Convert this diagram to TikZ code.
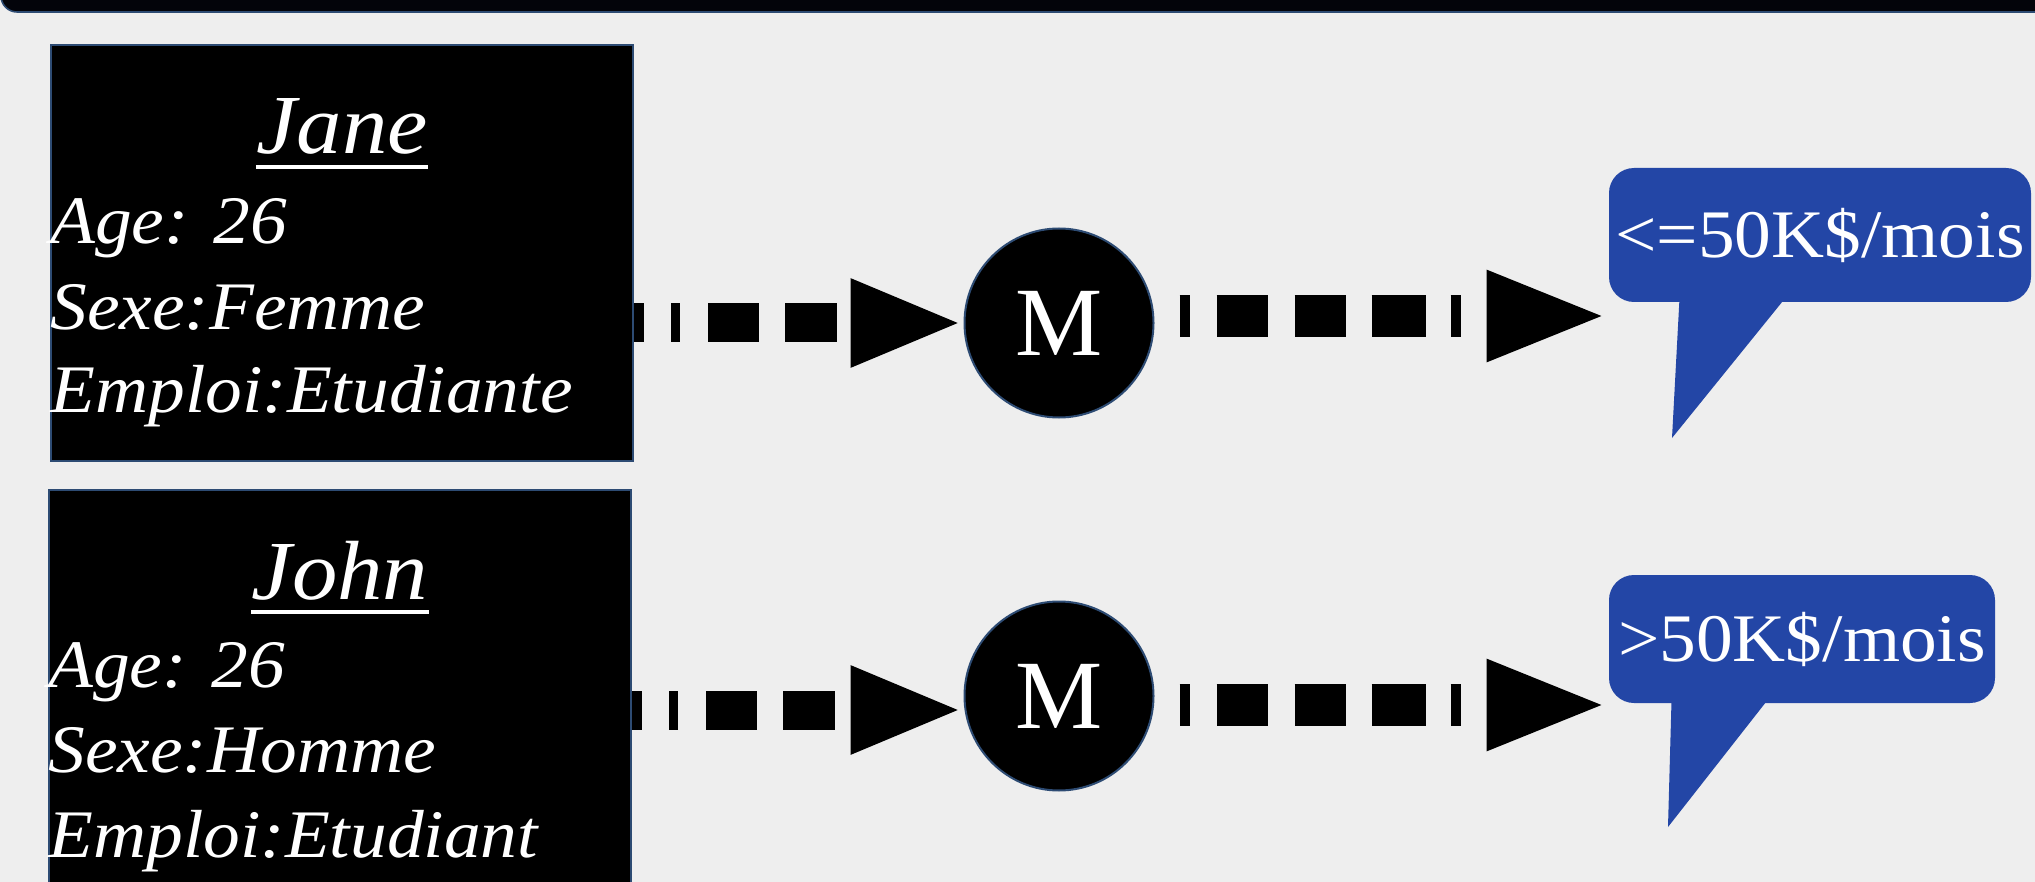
\documentclass[tikz,border=0pt]{standalone}
\usepackage{fontspec}
\setmainfont{Liberation Serif}
\newfontfamily\stretchserif{Liberation Serif}[FakeStretch=1.08]
\usetikzlibrary{arrows.meta}
\definecolor{bgcol}{RGB}{238,238,238}
\definecolor{callblue}{RGB}{35,70,166}
\definecolor{edgecol}{RGB}{45,75,115}
\definecolor{barcol}{RGB}{3,4,10}
\tikzset{
  personbox/.style={rectangle, fill=black, draw=edgecol, line width=1pt, inner sep=0pt,
    minimum width=291pt, minimum height=208pt},
  titletext/.style={inner sep=0pt, text=white, anchor=base,
    font=\stretchserif\itshape\fontsize{42pt}{48pt}\selectfont},
  attrtext/.style={inner sep=0pt, text=white, anchor=base west,
    font=\stretchserif\itshape\fontsize{34pt}{40pt}\selectfont},
  mnode/.style={circle, fill=black, draw=edgecol, line width=1pt, inner sep=0pt,
    minimum size=94.5pt, text=white, font=\fontsize{49pt}{55pt}\selectfont},
  callbox/.style={rectangle, rounded corners=12.5pt, fill=callblue, inner sep=0pt,
    text=white, font=\stretchserif\fontsize{34pt}{40pt}\selectfont},
  flowin/.style={black, line width=19.5pt, line cap=butt,
    dash pattern=on 5pt off 13.5pt on 4.5pt off 14pt on 25.5pt off 13pt on 26pt off 150pt,
    -{Triangle[length=56.5pt,width=40pt]}},
  flowout/.style={black, line width=21pt, line cap=butt,
    dash pattern=on 0pt off 12.5pt on 5pt off 13.5pt on 25.5pt off 13.5pt on 25.5pt off 13pt on 27pt off 12.5pt on 5pt off 150pt,
    -{Triangle[length=61pt,width=41pt]}},
  uline/.style={white, line width=1.6pt}
}
\begin{document}
\begin{tikzpicture}[x=0.5pt,y=-0.5pt]
\useasboundingbox (0,0) rectangle (2035,882);
\begin{scope}
\clip (0,0) rectangle (2035,882);
\fill[bgcol] (0,0) rectangle (2035,882);
% top bar
\fill[barcol, draw=edgecol, line width=0.8pt, rounded corners=8pt] (1,-60) rectangle (2100,12);

% person boxes
\node[personbox] (jane) at (342,253) {};
\node[personbox] (john) at (340,698) {};

% Jane text
\node[titletext] (janet) at ([yshift=-55pt]jane.north) {Jane};
\draw[uline] ([yshift=-6.5pt]janet.base west) -- ([yshift=-6.5pt]janet.base east);
\node[attrtext] (jane1) at ([yshift=-100pt]jane.north west) {Age: 26};
\node[attrtext] (jane2) at ([yshift=-142.5pt]jane.north west) {Sexe:Femme};
\node[attrtext] (jane3) at ([yshift=-184pt]jane.north west) {Emploi:Etudiante};

% John text
\node[titletext] (johnt) at ([yshift=-55pt]john.north) {John};
\draw[uline] ([yshift=-6.5pt]johnt.base west) -- ([yshift=-6.5pt]johnt.base east);
\node[attrtext] (john1) at ([yshift=-99pt]john.north west) {Age: 26};
\node[attrtext] (john2) at ([yshift=-141.5pt]john.north west) {Sexe:Homme};
\node[attrtext] (john3) at ([yshift=-184pt]john.north west) {Emploi:Etudiant};

% model circles
\node[mnode] (m1) at (1059,323) {M};
\node[mnode] (m2) at (1059,696) {M};

% callouts
\node[callbox, minimum width=211pt, minimum height=67pt] (c1) at (1820,235) {<=50K\$/mois};
\coordinate (t1) at (1672,438);
\fill[callblue] ([xshift=35.5pt,yshift=3pt]c1.south west) -- (t1) -- ([xshift=89pt,yshift=3pt]c1.south west) -- cycle;

\node[callbox, minimum width=193pt, minimum height=64pt] (c2) at (1802,639) {>50K\$/mois};
\coordinate (t2) at (1668,827);
\fill[callblue] ([xshift=31.5pt,yshift=3pt]c2.south west) -- (t2) -- ([xshift=80.5pt,yshift=3pt]c2.south west) -- cycle;

% connectors
\draw[flowin] (m1.west -| jane.east) -- (m1.west);
\draw[flowout] ([yshift=3.5pt]m1.east) -- ([yshift=3.5pt]m1.east -| c1.west);
\draw[flowin] ([yshift=-7pt]m2.west -| john.east) -- ([yshift=-7pt]m2.west);
\draw[flowout] ([yshift=-4.5pt]m2.east) -- ([yshift=-4.5pt]m2.east -| c2.west);
\end{scope}
\end{tikzpicture}
\end{document}
